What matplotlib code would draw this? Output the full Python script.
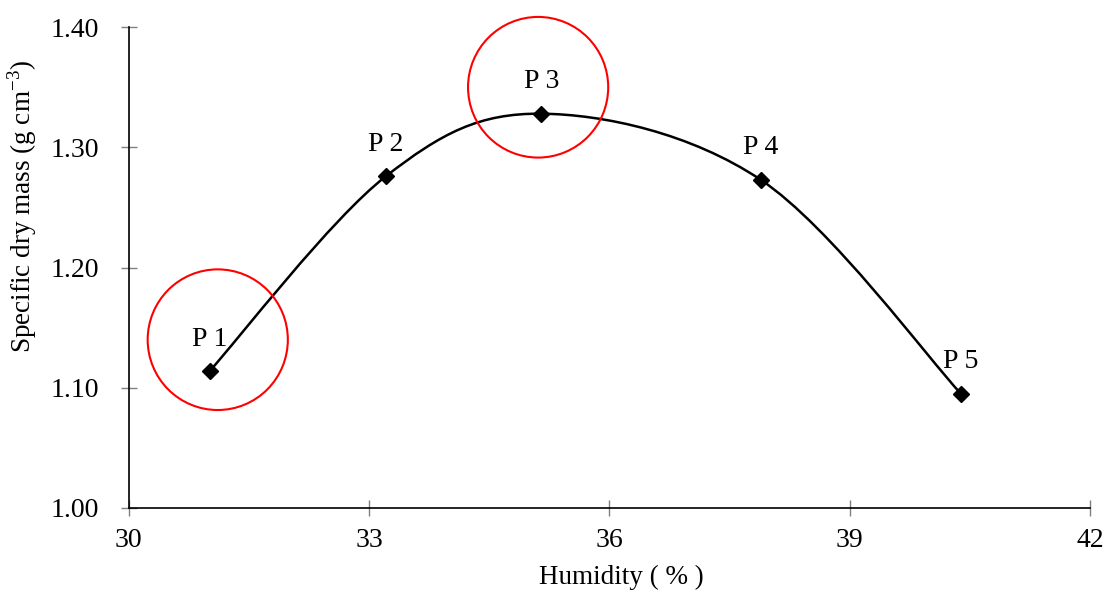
import matplotlib
matplotlib.use("Agg")
import matplotlib.pyplot as plt
import numpy as np
from matplotlib.path import Path
from matplotlib.patches import PathPatch, Ellipse

plt.rcParams["font.family"] = ["Liberation Serif", "DejaVu Serif"]
plt.rcParams["mathtext.fontset"] = "custom"
plt.rcParams["mathtext.rm"] = "Liberation Serif"

humidity = [31.01, 33.21, 35.15, 37.89, 40.39]
dry_mass = [1.114, 1.276, 1.328, 1.273, 1.095]
point_labels = ["P 1", "P 2", "P 3", "P 4", "P 5"]

# highlighted points (circle centres in data units)
circle_x = [31.11, 35.11]
circle_y = [1.140, 1.350]

x_ticks = [30, 33, 36, 39, 42]
y_ticks = [1.00, 1.10, 1.20, 1.30, 1.40]


def smooth_path(xs, ys):
    # Excel-like smoothed line: cubic Bezier through each point (Catmull-Rom, 1/6)
    pts = np.column_stack([xs, ys])
    ext = np.vstack([pts[0], pts, pts[-1]])
    verts = [tuple(pts[0])]
    codes = [Path.MOVETO]
    for i in range(1, len(ext) - 2):
        p0, p1, p2, p3 = ext[i - 1], ext[i], ext[i + 1], ext[i + 2]
        c1 = p1 + (p2 - p0) / 6
        c2 = p2 - (p3 - p1) / 6
        verts += [tuple(c1), tuple(c2), tuple(p2)]
        codes += [Path.CURVE4] * 3
    return Path(verts, codes)


fig = plt.figure(figsize=(11.06, 5.9), dpi=100)
ax = fig.add_axes([0.1165, 0.139, 0.869, 0.815])

ax.add_patch(PathPatch(smooth_path(humidity, dry_mass), facecolor="none",
                       edgecolor="black", lw=1.8, zorder=3))
ax.plot(humidity, dry_mass, linestyle="none", marker="D", markersize=8,
        color="black", zorder=4)

for x, y, lab in zip(humidity, dry_mass, point_labels):
    ax.annotate(lab, (x, y), xytext=(0, 23), textcoords="offset points",
                ha="center", va="center", fontsize=20)

for cx, cy in zip(circle_x, circle_y):
    ax.add_patch(Ellipse((cx, cy), width=1.75, height=0.117, facecolor="none",
                         edgecolor="red", lw=1.5, zorder=5, clip_on=False))

ax.set_xlim(30, 42)
ax.set_ylim(1.00, 1.40)
ax.set_xticks(x_ticks)
ax.set_yticks(y_ticks)
ax.set_yticklabels([f"{v:.2f}" for v in y_ticks])
ax.tick_params(direction="inout", length=11, width=1, color="#808080",
               labelsize=20)
ax.tick_params(axis="y", pad=16)
ax.tick_params(axis="x", pad=9)
for side in ["top", "right"]:
    ax.spines[side].set_visible(False)
for side in ["left", "bottom"]:
    ax.spines[side].set_linewidth(1.2)

ax.set_xlabel("Humidity ( % )", fontsize=19.5)
ax.set_ylabel(r"Specific dry mass (g cm$^{\mathregular{-3}}$)", fontsize=19.5)
ax.xaxis.set_label_coords(0.5125, -0.118)
ax.yaxis.set_label_coords(-0.094, 0.628)

fig.savefig("out.png", dpi=100)
